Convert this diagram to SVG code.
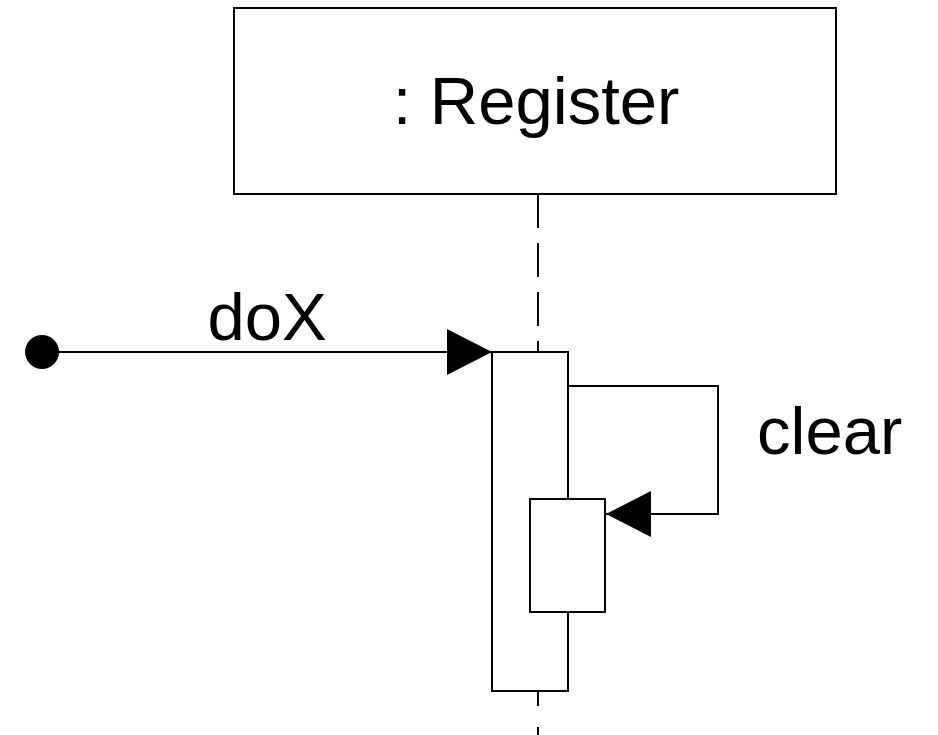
<svg xmlns="http://www.w3.org/2000/svg" width="938" height="735" viewBox="0 0 938 735">
<style>
.s{fill:#fff;stroke:#000;stroke-width:2}
.l{fill:none;stroke:#000;stroke-width:2}
.t{font-family:"Liberation Sans",Arial,sans-serif;font-size:67px;fill:#000}
</style>
<defs>
<marker id="ah" markerUnits="userSpaceOnUse" markerWidth="46" markerHeight="46" viewBox="0 0 46 46" refX="45" refY="23" orient="auto">
<path d="M0,0 L45,23 L0,46 Z" fill="#000"/>
</marker>
</defs>
<g id="connectors">
<line class="l" x1="538" y1="194" x2="538" y2="352" stroke-dasharray="34 15"/>
<line class="l" x1="538" y1="692" x2="538" y2="735" stroke-dasharray="14 21"/>
<line class="l" x1="58" y1="352" x2="492" y2="352" marker-end="url(#ah)"/>
<polyline class="l" points="568,386 718,386 718,514 606,514" marker-end="url(#ah)"/>
</g>
<g id="register">
<rect class="s" x="234" y="8" width="602" height="186"/>
<text class="t" x="536" y="124" text-anchor="middle">: Register</text>
</g>
<g id="start">
<circle cx="42" cy="352" r="17" fill="#000"/>
</g>
<g id="activation">
<rect class="s" x="492" y="352" width="76" height="339"/>
</g>
<g id="nested-activation">
<rect class="s" x="530" y="499" width="75" height="113"/>
</g>
<g id="labels">
<text class="t" x="267" y="340" text-anchor="middle">doX</text>
<text class="t" x="757" y="454">clear</text>
</g>
</svg>
